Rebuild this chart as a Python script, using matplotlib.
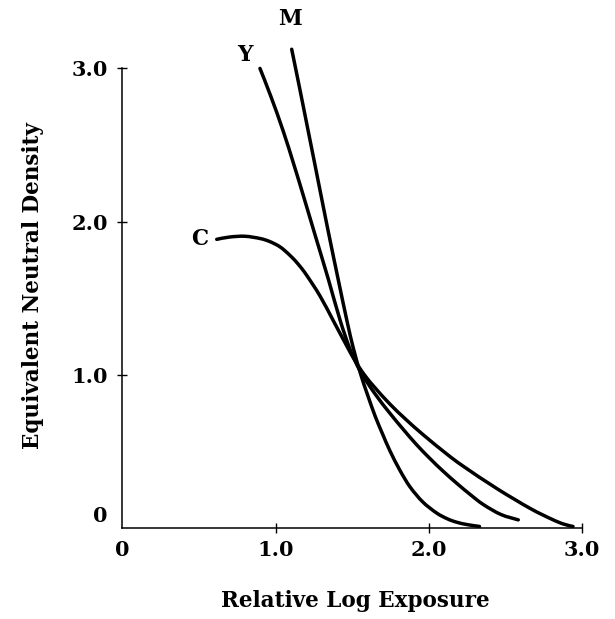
import matplotlib
matplotlib.use("Agg")
import matplotlib.pyplot as plt
import matplotlib.transforms as mtransforms
from matplotlib.path import Path
from matplotlib.patches import PathPatch

# curves (relative log exposure, density)
c_x = [0.616, 0.70, 0.80, 0.90, 0.963, 1.03, 1.094, 1.15, 1.203, 1.29, 1.376,
       1.464, 1.52, 1.58, 1.65, 1.746, 1.85, 1.963, 2.116, 2.224, 2.442, 2.66,
       2.80, 2.877, 2.94]
c_y = [1.885, 1.90, 1.905, 1.89, 1.87, 1.835, 1.78, 1.72, 1.65, 1.515, 1.355,
       1.19, 1.09, 1.0, 0.915, 0.81, 0.71, 0.61, 0.485, 0.405, 0.26, 0.13,
       0.06, 0.028, 0.012]

y_x = [0.898, 0.97, 1.05, 1.12, 1.181, 1.257, 1.344, 1.42, 1.485, 1.555, 1.65,
       1.746, 1.833, 1.92, 2.007, 2.09, 2.18, 2.27, 2.355, 2.47, 2.583]
y_y = [3.0, 2.815, 2.59, 2.37, 2.17, 1.915, 1.625, 1.36, 1.17, 1.02, 0.875,
       0.75, 0.645, 0.545, 0.455, 0.375, 0.295, 0.22, 0.155, 0.09, 0.055]

m_x = [1.105, 1.155, 1.203, 1.257, 1.311, 1.355, 1.409, 1.464, 1.507, 1.555,
       1.60, 1.65, 1.70, 1.746, 1.81, 1.877, 1.96, 2.05, 2.12, 2.18, 2.25, 2.33]
m_y = [3.125, 2.88, 2.64, 2.37, 2.098, 1.88, 1.62, 1.36, 1.175, 1.005,
       0.87, 0.73, 0.61, 0.505, 0.38, 0.27, 0.172, 0.1, 0.062, 0.04, 0.024,
       0.012]

curve_labels = ["C", "Y", "M"]
label_pos = [(0.507, 1.89), (0.80, 3.09), (1.094, 3.32)]

ticks = [0, 1.0, 2.0, 3.0]
tick_labels = ["0", "1.0", "2.0", "3.0"]


def smooth_path(xs, ys):
    # catmull-rom through the read points, drawn as cubic beziers
    pts = list(zip(xs, ys))
    pts = [pts[0]] + pts + [pts[-1]]
    verts = [pts[1]]
    codes = [Path.MOVETO]
    for i in range(1, len(pts) - 2):
        p0, p1, p2, p3 = pts[i - 1], pts[i], pts[i + 1], pts[i + 2]
        c1 = (p1[0] + (p2[0] - p0[0]) / 6, p1[1] + (p2[1] - p0[1]) / 6)
        c2 = (p2[0] - (p3[0] - p1[0]) / 6, p2[1] - (p3[1] - p1[1]) / 6)
        verts += [c1, c2, p2]
        codes += [Path.CURVE4] * 3
    return Path(verts, codes)


font = {"family": "DejaVu Serif", "weight": "bold", "size": 15.5}
tick_font = {"family": "DejaVu Serif", "weight": "bold", "size": 15}

fig = plt.figure(figsize=(6.15, 6.19), dpi=100)
ax = fig.add_axes([122.3 / 615, 90.7 / 619, 3.2 * 153.3 / 615, 3.4 * 153.3 / 619])

for xs, ys in [(c_x, c_y), (y_x, y_y), (m_x, m_y)]:
    ax.add_patch(PathPatch(smooth_path(xs, ys), facecolor="none",
                           edgecolor="black", lw=2.5, capstyle="round",
                           joinstyle="round"))

for name, (lx, ly) in zip(curve_labels, label_pos):
    ax.text(lx, ly, name, ha="center", va="center", **font)

ax.set_xlim(0, 3.2)
ax.set_ylim(0, 3.4)

for side in ["top", "right"]:
    ax.spines[side].set_visible(False)
ax.spines["left"].set_bounds(0, 3.0)
ax.spines["bottom"].set_bounds(0, 3.0)
ax.spines["left"].set_linewidth(1.1)
ax.spines["bottom"].set_linewidth(1.1)

ax.set_xticks(ticks)
ax.set_xticklabels(tick_labels, fontdict=tick_font)
ax.set_yticks(ticks)
ax.set_yticklabels(tick_labels, fontdict=tick_font)
ax.tick_params(direction="inout", length=7, width=1.0)
ax.tick_params(axis="x", pad=5)
ax.tick_params(axis="y", pad=7)
ax.xaxis.get_major_ticks()[0].tick1line.set_visible(False)
ax.yaxis.get_major_ticks()[0].tick1line.set_visible(False)

# the "0" on the y axis sits a little above the corner
lab0 = ax.get_yticklabels()[0]
lab0.set_transform(lab0.get_transform() +
                   mtransforms.ScaledTranslation(0, 10 / 72, fig.dpi_scale_trans))

fig.text(355.5 / 615, 1 - 601 / 619, "Relative Log Exposure",
         ha="center", va="center", **font)
fig.text(33 / 615, 1 - 286 / 619, "Equivalent Neutral Density",
         ha="center", va="center", rotation=90, **font)

fig.savefig("out.png", dpi=100)
